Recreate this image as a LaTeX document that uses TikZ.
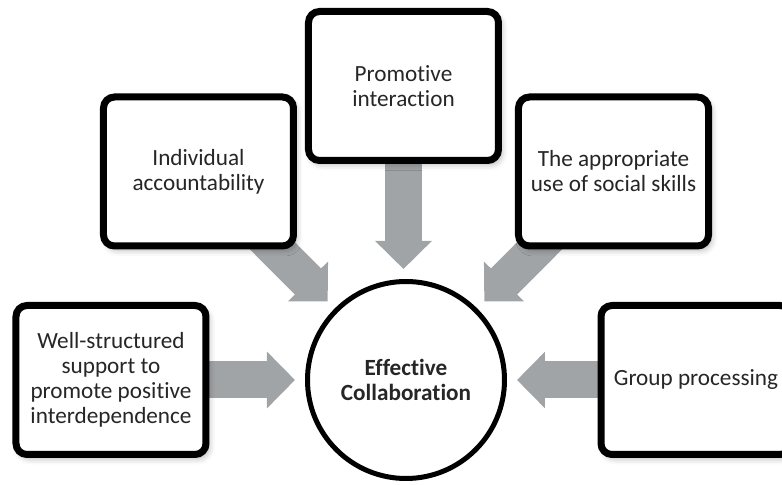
\documentclass[tikz,border=0pt]{standalone}
\usepackage{fontspec}
\setmainfont{Carlito}[Ligatures=CommonOff]
\usetikzlibrary{arrows.meta,backgrounds,shadows.blur}

\definecolor{arrowgray}{RGB}{161,164,167}
\definecolor{textgray}{RGB}{38,38,38}

\tikzset{
  topic/.style={draw=black, fill=white, line width=0.14cm, rounded corners=0.22cm,
    minimum width=3.8cm, minimum height=2.98cm, align=center, text=textgray,
    font=\fontsize{13.2}{14.2}\selectfont,
    blur shadow={shadow xshift=0.06cm, shadow yshift=-0.08cm, shadow blur radius=0.12cm, shadow opacity=30}},
  hub/.style={circle, draw=black, fill=white, line width=0.1cm, minimum size=3.94cm,
    align=center, text=textgray, font=\fontsize{13.2}{14.2}\selectfont\bfseries},
  bigarrow/.style={draw=arrowgray, line width=0.74cm,
    -{Triangle[length=0.56cm, width=1.1cm]}, shorten >=0.2cm}
}

\begin{document}
\begin{tikzpicture}

\useasboundingbox (-8.12,-2.1) rectangle (7.52,7.6);
\clip (-8.12,-2.1) rectangle (7.52,7.6);

% Centre
\node[hub] (ec) at (0,0) {Effective\\Collaboration};

% The five elements
\node[topic] (wss) at (-5.9,0) {Well-structured\\support to\\promote positive\\interdependence};
\node[topic] (ia) at (-4.15,4.17) {Individual\\accountability};
\node[topic] (pi) at (-0.05,5.88) {Promotive\\interaction};
\node[topic] (ss) at (4.15,4.17) {The appropriate\\use of social skills};
\node[topic] (gp) at (5.8,0) {Group processing};

%% Arrows into the centre
\begin{scope}[on background layer]
\draw[bigarrow] (wss.center) -- (ec);
\draw[bigarrow] (ia.center) -- (ec);
\draw[bigarrow] (pi.center) -- (pi.center |- ec.north);
\draw[bigarrow] (ss.center) -- (ec);
\draw[bigarrow] (gp.center) -- (ec);
\end{scope}

\end{tikzpicture}
\end{document}
